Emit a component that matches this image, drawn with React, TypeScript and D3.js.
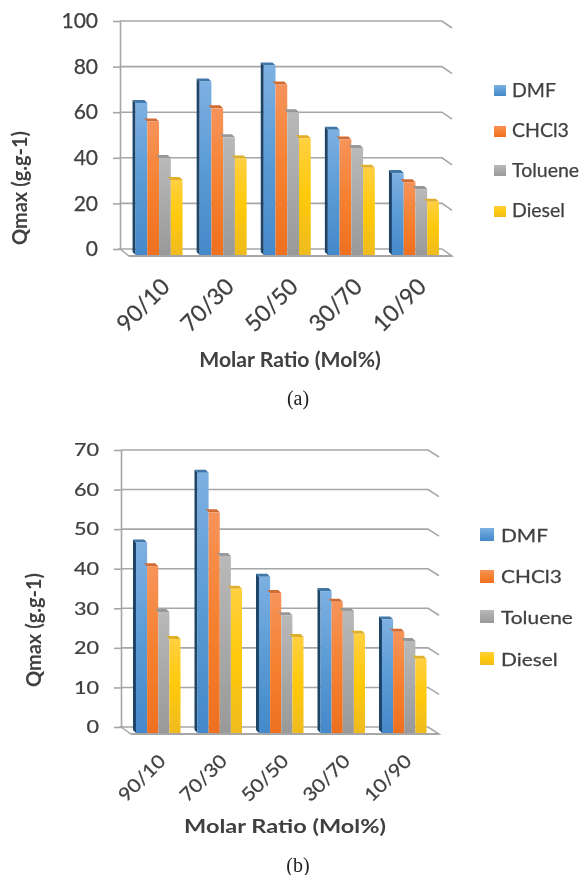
import React from 'react';
import * as d3 from 'd3';

const categories = ['90/10', '70/30', '50/50', '30/70', '10/90'];
const seriesNames = ['DMF', 'CHCl3', 'Toluene', 'Diesel'];

// values panel (a), one list per series
const dmfA = [65.4, 74.8, 81.8, 53.6, 34.6];
const chclA = [57.2, 63, 73.5, 49.3, 30.6];
const tolueneA = [41.2, 50.3, 61.3, 45.6, 27.6];
const dieselA = [31.6, 41, 49.9, 37, 22];
const ticksA = [0, 20, 40, 60, 80, 100];

// values panel (b)
const dmfB = [47.4, 65, 38.7, 35.1, 27.9];
const chclB = [41.4, 55, 34.6, 32.4, 24.8];
const tolueneB = [29.8, 44, 29, 30.1, 22.5];
const dieselB = [23, 35.7, 23.5, 24.3, 18];
const ticksB = [0, 10, 20, 30, 40, 50, 60, 70];

const frontStops = [
  ['#7db0e2', '#5b9bd5', '#4489ca'],
  ['#f7935a', '#f58130', '#ee7020'],
  ['#b9b9b9', '#a9a9a9', '#999999'],
  ['#ffd040', '#ffc90a', '#efbb20'],
];
const capColors = ['#3f76a8', '#d26c34', '#989898', '#dfae2a'];
const sideColor = '#1f4468';
const lineColor = '#a6a6a6';
const textColor = '#404040';
const fontFamily = 'Lato, sans-serif';

interface PanelOptions {
  id: string;
  values: number[][];
  ticks: number[];
  yPx: [number, number];
  xPx: [number, number];
  padding: number;
  wall: [number, number];
  depth: [number, number];
  stretch: number;
  tickFont: number;
  xLabelFont: number;
  xLabelStretch: number;
  xLabelY: number;
  xLabelShift: number;
  xTitle: [number, number, number, number];
  yTitle: [number, number, number];
  legendSwatch: [number, number];
  legendSwatchY: number[];
  legendText: number;
  legendTextY: number[];
  legendFont: number;
  legendStretch: number;
  caption: string;
  captionY: number;
}

const panels: PanelOptions[] = [
  {
    id: 'a',
    values: [dmfA, chclA, tolueneA, dieselA],
    ticks: ticksA,
    yPx: [249, 21],
    xPx: [127, 447.5],
    padding: 0.267,
    wall: [120, 442],
    depth: [10, 7],
    stretch: 1,
    tickFont: 21,
    xLabelFont: 23,
    xLabelStretch: 1,
    xLabelY: 305,
    xLabelShift: -16,
    xTitle: [290, 367, 20, 1.06],
    yTitle: [27, 188, 20],
    legendSwatch: [494, 12],
    legendSwatchY: [85, 126, 165, 206],
    legendText: 512,
    legendTextY: [97, 137, 177, 217],
    legendFont: 19.5,
    legendStretch: 1,
    caption: '(a)',
    captionY: 405,
  },
  {
    id: 'b',
    values: [dmfB, chclB, tolueneB, dieselB],
    ticks: ticksB,
    yPx: [727, 450],
    xPx: [127.5, 435],
    padding: 0.276,
    wall: [121, 428],
    depth: [11, 7],
    stretch: 1.2,
    tickFont: 18,
    xLabelFont: 18.5,
    xLabelStretch: 1.12,
    xLabelY: 778,
    xLabelShift: -16.5,
    xTitle: [285, 833, 19, 1.24],
    yTitle: [41, 630, 20],
    legendSwatch: [480, 14],
    legendSwatchY: [528, 570, 610, 652],
    legendText: 501,
    legendTextY: [542, 583, 624, 666],
    legendFont: 18,
    legendStretch: 1.16,
    caption: '(b)',
    captionY: 872,
  },
];

function drawPanel(root: d3.Selection<SVGGElement, unknown, null, undefined>, p: PanelOptions) {
  const y = d3.scaleLinear().domain([p.ticks[0], p.ticks[p.ticks.length - 1]]).range(p.yPx);
  const x = d3.scaleBand().domain(categories).range(p.xPx).paddingInner(p.padding).paddingOuter(p.padding / 2);
  const xInner = d3.scaleBand().domain(seriesNames).range([0, x.bandwidth()]);
  const line = d3.line<[number, number]>();
  const [wallL, wallR] = p.wall;
  const [dx, dy] = p.depth;

  const g = root.append('g');

  // floor
  g.append('path')
    .attr('d', line([[wallL, y(0)], [wallL + dx - 1, y(0) + dy], [wallR + dx, y(0) + dy], [wallR, y(0)]]) + 'Z')
    .attr('fill', '#fff')
    .attr('stroke', lineColor)
    .attr('stroke-width', 1.5);
  g.append('path')
    .attr('d', line([[wallL + dx - 1, y(0) + dy], [wallR + dx, y(0) + dy]]))
    .attr('stroke', lineColor)
    .attr('stroke-width', 2);

  // gridlines with their bend at the right
  p.ticks.slice(1).forEach(t => {
    g.append('path')
      .attr('d', line([[wallL, y(t)], [wallR, y(t)], [wallR + dx, y(t) + dy]]))
      .attr('fill', 'none')
      .attr('stroke', lineColor)
      .attr('stroke-width', 1.6);
  });

  // y axis
  const yAxis = g.append('g')
    .attr('transform', `translate(${wallL},0)`)
    .call(d3.axisLeft(y).tickValues(p.ticks).tickSize(7).tickSizeOuter(0).tickPadding(15));
  yAxis.select('.domain').attr('stroke', lineColor).attr('stroke-width', 1.6);
  yAxis.selectAll('.tick line').attr('stroke', lineColor).attr('stroke-width', 1.6);
  yAxis.selectAll<SVGTextElement, number>('.tick text')
    .attr('font-family', fontFamily)
    .attr('font-size', p.tickFont)
    .attr('fill', textColor)
    .attr('stroke', textColor)
    .attr('stroke-width', 0.25)
    .attr('transform', function () {
      const tx = +(d3.select(this).attr('x') || 0);
      return `translate(${tx - tx * p.stretch},0) scale(${p.stretch},1)`;
    });

  // bars, left to right
  const barDepth = 3;
  const frontBottom = y(0) + dy - 1;
  categories.forEach((c, ci) => {
    seriesNames.forEach((s, si) => {
      const x0 = (x(c) || 0) + (xInner(s) || 0);
      const x1 = x0 + xInner.bandwidth();
      const top = y(p.values[si][ci]);
      if (si === 0) {
        g.append('path')
          .attr('d', line([[x0, top + barDepth], [x0 - barDepth, top], [x0 - barDepth, frontBottom - barDepth], [x0, frontBottom]]) + 'Z')
          .attr('fill', sideColor);
      }
      g.append('path')
        .attr('d', line([[x0, top + barDepth], [x0 - barDepth, top], [x1 - barDepth, top], [x1, top + barDepth]]) + 'Z')
        .attr('fill', capColors[si]);
      g.append('rect')
        .attr('x', x0)
        .attr('y', top + barDepth)
        .attr('width', xInner.bandwidth())
        .attr('height', frontBottom - top - barDepth)
        .attr('fill', `url(#front-${si})`);
    });
  });

  // x labels
  const xAxis = g.append('g')
    .attr('transform', `translate(${p.xLabelShift},${p.xLabelY})`)
    .call(d3.axisBottom(x).tickSize(0).tickPadding(0));
  xAxis.select('.domain').remove();
  xAxis.selectAll('.tick text')
    .attr('y', 0)
    .attr('dy', '0.35em')
    .attr('font-family', fontFamily)
    .attr('font-size', p.xLabelFont)
    .attr('fill', textColor)
    .attr('stroke', textColor)
    .attr('stroke-width', 0.25)
    .attr('text-anchor', 'middle')
    .attr('transform', `rotate(-45) scale(${p.xLabelStretch},1)`);

  // titles
  g.append('text')
    .attr('transform', `translate(${p.xTitle[0]},${p.xTitle[1]}) scale(${p.xTitle[3]},1)`)
    .attr('text-anchor', 'middle')
    .attr('font-family', fontFamily)
    .attr('font-size', p.xTitle[2])
    .attr('font-weight', 'bold')
    .attr('fill', textColor)
    .text('Molar Ratio (Mol%)');
  g.append('text')
    .attr('transform', `translate(${p.yTitle[0]},${p.yTitle[1]}) rotate(-90)`)
    .attr('text-anchor', 'middle')
    .attr('font-family', fontFamily)
    .attr('font-size', p.yTitle[2])
    .attr('font-weight', 'bold')
    .attr('fill', textColor)
    .text('Qmax (g.g-1)');

  // legend
  seriesNames.forEach((s, si) => {
    g.append('rect')
      .attr('x', p.legendSwatch[0])
      .attr('y', p.legendSwatchY[si])
      .attr('width', p.legendSwatch[1])
      .attr('height', p.legendSwatch[1] - 1)
      .attr('fill', `url(#front-${si})`);
    g.append('text')
      .attr('transform', `translate(${p.legendText},${p.legendTextY[si]}) scale(${p.legendStretch},1)`)
      .attr('font-family', fontFamily)
      .attr('font-size', p.legendFont)
      .attr('fill', textColor)
      .attr('stroke', textColor)
      .attr('stroke-width', 0.25)
      .text(s);
  });

  // caption under the panel
  g.append('text')
    .attr('x', 298)
    .attr('y', p.captionY)
    .attr('text-anchor', 'middle')
    .attr('font-family', '"Liberation Serif", serif')
    .attr('font-size', 20)
    .attr('fill', '#222')
    .text(p.caption);
}

const App: React.FC = () => {
  const svgRef = React.useRef<SVGSVGElement>(null);

  React.useEffect(() => {
    if (!svgRef.current) return;
    const svg = d3.select(svgRef.current);
    svg.selectAll('*').remove();

    const defs = svg.append('defs');
    const soft = defs.append('filter').attr('id', 'soft');
    soft.append('feGaussianBlur').attr('stdDeviation', 0.45);

    frontStops.forEach((stops, i) => {
      const grad = defs.append('linearGradient')
        .attr('id', `front-${i}`)
        .attr('x1', 0).attr('y1', 0).attr('x2', 0).attr('y2', 1);
      stops.forEach((col, k) => {
        grad.append('stop').attr('offset', `${k * 50}%`).attr('stop-color', col);
      });
    });

    const root = svg.append('g').attr('filter', 'url(#soft)');
    root.append('rect').attr('width', 585).attr('height', 875).attr('fill', '#fff');
    panels.forEach(p => drawPanel(root as any, p));
  }, []);

  return (
    <svg
      ref={svgRef}
      width={585}
      height={875}
      style={{ position: 'absolute', left: 0, top: 0, display: 'block' }}
    />
  );
};

export default App;
